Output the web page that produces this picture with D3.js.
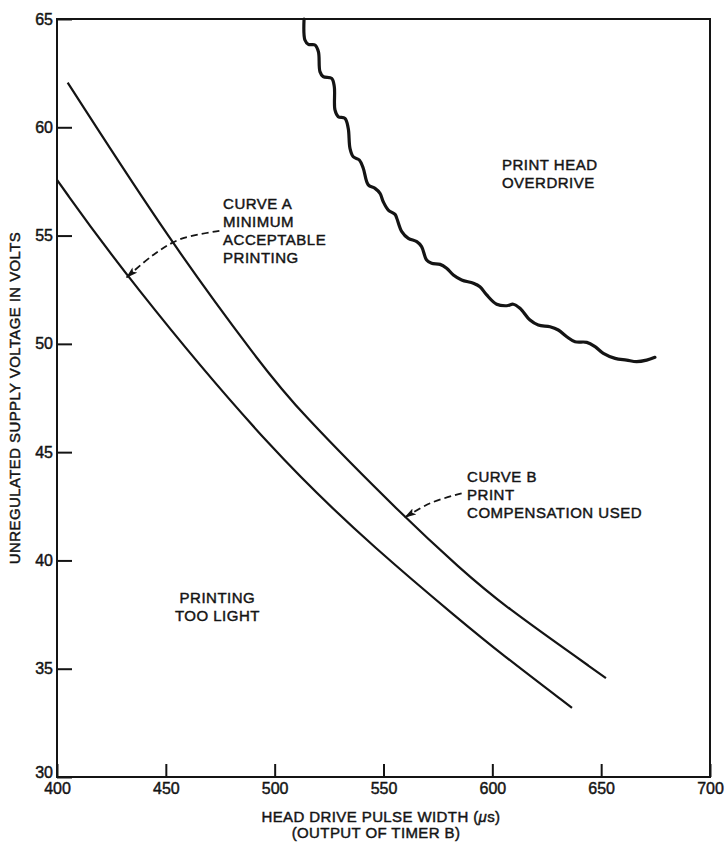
<!DOCTYPE html>
<html>
<head>
<meta charset="utf-8">
<script src="https://cdn.jsdelivr.net/npm/d3@7"></script>
<style>
  body { margin: 0; background: #fff; }
  svg text { font-family: "Liberation Sans", Arial, sans-serif; fill: #141414; stroke: #141414; stroke-width: 0.45px; }
</style>
</head>
<body>
<div id="chart"></div>
<script>
// values
const xTicks = [400, 450, 500, 550, 600, 650, 700];
const yTicks = [30, 35, 40, 45, 50, 55, 60, 65];

// curve A : minimum acceptable printing (lower curve)
const curveAPulse = [400, 432.2, 500.5, 548.4, 585.1, 603.5, 636.6];
const curveAVolts = [57.57, 53.04, 44.8, 40.35, 37.25, 35.73, 33.19];

// curve B : print compensation used (upper curve)
const curveBPulse = [404.9, 452.4, 493.3, 509.8, 560.8, 585.1, 603.5, 652.2];
const curveBVolts = [62.06, 54.66, 49.12, 47.04, 41.87, 39.65, 38.03, 34.57];

// print head overdrive boundary (wavy line)
const overPulse = [513.5, 513.9, 515.5, 518.5, 520.1, 520.8, 522.3, 526.2, 527.4, 527.7, 529.2, 532.3,
  533.8, 534.6, 536.1, 538.9, 540.7, 543.0, 546.1, 548.4, 549.9, 552.2, 555.3, 556.1, 558.4, 561.4,
  565.3, 567.5, 569.8, 572.1, 576.0, 579.0, 582.1, 585.9, 591.3, 594.3, 597.4, 602.0, 606.6, 609.6,
  612.7, 617.3, 621.1, 626.5, 630.3, 634.2, 638.0, 643.4, 647.2, 651.0, 656.4, 661.7, 666.3, 670.9, 674.7];
const overVolts = [65.0, 64.03, 63.83, 63.80, 63.49, 62.57, 62.34, 62.26, 61.87, 60.80, 60.49, 60.41,
  59.95, 59.03, 58.64, 58.49, 58.11, 57.34, 57.18, 56.95, 56.56, 56.18, 55.98, 55.80, 55.18, 54.87,
  54.72, 54.49, 53.87, 53.72, 53.67, 53.49, 53.18, 52.95, 52.80, 52.64, 52.26, 51.83, 51.76, 51.83,
  51.64, 51.10, 50.87, 50.79, 50.64, 50.33, 50.10, 50.07, 49.87, 49.56, 49.33, 49.25, 49.18, 49.25, 49.38];

// annotation arrows (data coords)
const arrowAPulse = [474.6, 456.5, 444.2, 432.0];
const arrowAVolts = [55.22, 54.83, 54.10, 53.07];
const arrowBPulse = [585.9, 571.4, 559.9];
const arrowBVolts = [43.10, 42.64, 41.99];

const labels = [
  { lines: ["CURVE A", "MINIMUM", "ACCEPTABLE", "PRINTING"], pulse: 476.3, volts: 56.23, anchor: "start" },
  { lines: ["CURVE B", "PRINT", "COMPENSATION USED"], pulse: 588.4, volts: 43.62, anchor: "start" },
  { lines: ["PRINT HEAD", "OVERDRIVE"], pulse: 604.4, volts: 58.03, anchor: "start" },
  { lines: ["PRINTING", "TOO LIGHT"], pulse: 473.7, volts: 38.03, anchor: "middle" }
];

const width = 726, height = 842;
const margin = { top: 19, right: 16, bottom: 65, left: 57 };

const svg = d3.select("#chart").append("svg")
  .attr("width", width)
  .attr("height", height);

const x = d3.scaleLinear().domain([400, 700]).range([margin.left, width - margin.right]);
const y = d3.scaleLinear().domain([30, 65]).range([height - margin.bottom, margin.top]);

svg.append("defs").append("marker")
  .attr("id", "arrow")
  .attr("viewBox", "0 0 12 8")
  .attr("refX", 11)
  .attr("refY", 4)
  .attr("markerWidth", 12)
  .attr("markerHeight", 8)
  .attr("markerUnits", "userSpaceOnUse")
  .attr("orient", "auto")
  .append("path")
  .attr("d", "M0,0.5 L12,4 L0,7.5 L2.5,4 z")
  .attr("fill", "#141414");

// axes
const xAxis = svg.append("g")
  .attr("transform", `translate(0,${y(30)})`)
  .call(d3.axisBottom(x).tickValues(xTicks).tickSizeInner(-13).tickSizeOuter(0).tickPadding(6));
const yAxis = svg.append("g")
  .attr("transform", `translate(${x(400)},0)`)
  .call(d3.axisLeft(y).tickValues(yTicks).tickSizeInner(-15).tickSizeOuter(0).tickPadding(4));

[xAxis, yAxis].forEach(g => {
  g.select(".domain").remove();
  g.selectAll(".tick line").attr("stroke", "#141414").attr("stroke-width", 2);
  g.selectAll(".tick text").style("font-size", "16px");
});
yAxis.selectAll(".tick").filter(d => d === 30).select("text").attr("dy", "0.05em");

// frame
svg.append("rect")
  .attr("x", x(400)).attr("y", y(65))
  .attr("width", x(700) - x(400)).attr("height", y(30) - y(65))
  .attr("fill", "none").attr("stroke", "#141414").attr("stroke-width", 2);

const line = d3.line().x(d => x(d[0])).y(d => y(d[1])).curve(d3.curveCatmullRom.alpha(0.5));
const smooth = d3.line().x(d => x(d[0])).y(d => y(d[1])).curve(d3.curveBasis);

svg.append("path")
  .datum(d3.zip(curveAPulse, curveAVolts))
  .attr("d", smooth)
  .attr("fill", "none").attr("stroke", "#141414").attr("stroke-width", 2.2);

svg.append("path")
  .datum(d3.zip(curveBPulse, curveBVolts))
  .attr("d", smooth)
  .attr("fill", "none").attr("stroke", "#141414").attr("stroke-width", 2.2);

svg.append("path")
  .datum(d3.zip(overPulse, overVolts))
  .attr("d", line)
  .attr("fill", "none").attr("stroke", "#141414").attr("stroke-width", 3.2)
  .attr("stroke-linejoin", "round").attr("stroke-linecap", "round");

// dashed pointers
[[arrowAPulse, arrowAVolts], [arrowBPulse, arrowBVolts]].forEach(([px, pv]) => {
  svg.append("path")
    .datum(d3.zip(px, pv))
    .attr("d", line)
    .attr("fill", "none").attr("stroke", "#141414").attr("stroke-width", 1.8)
    .attr("stroke-dasharray", "7,4")
    .attr("marker-end", "url(#arrow)");
});

// region / curve labels
labels.forEach(l => {
  const t = svg.append("text")
    .attr("x", x(l.pulse)).attr("y", y(l.volts))
    .attr("text-anchor", l.anchor)
    .style("font-size", "15px")
    .style("letter-spacing", "0.5px");
  l.lines.forEach((s, i) => {
    t.append("tspan").attr("x", x(l.pulse)).attr("dy", i === 0 ? 0 : 18).text(s);
  });
});

// axis titles
const xt = svg.append("text")
  .attr("x", 381).attr("y", 822)
  .attr("text-anchor", "middle")
  .style("font-size", "15px").style("letter-spacing", "0.4px");
xt.append("tspan").text("HEAD DRIVE PULSE WIDTH (");
xt.append("tspan").style("font-style", "italic").text("μ");
xt.append("tspan").text("s)");
svg.append("text")
  .attr("x", 376).attr("y", 838)
  .attr("text-anchor", "middle")
  .style("font-size", "15px").style("letter-spacing", "0.4px")
  .text("(OUTPUT OF TIMER B)");

svg.append("text")
  .attr("transform", `translate(20,${(y(30) + y(65)) / 2}) rotate(-90)`)
  .attr("text-anchor", "middle")
  .style("font-size", "15px").style("letter-spacing", "0.4px")
  .text("UNREGULATED SUPPLY VOLTAGE IN VOLTS");
</script>
</body>
</html>
